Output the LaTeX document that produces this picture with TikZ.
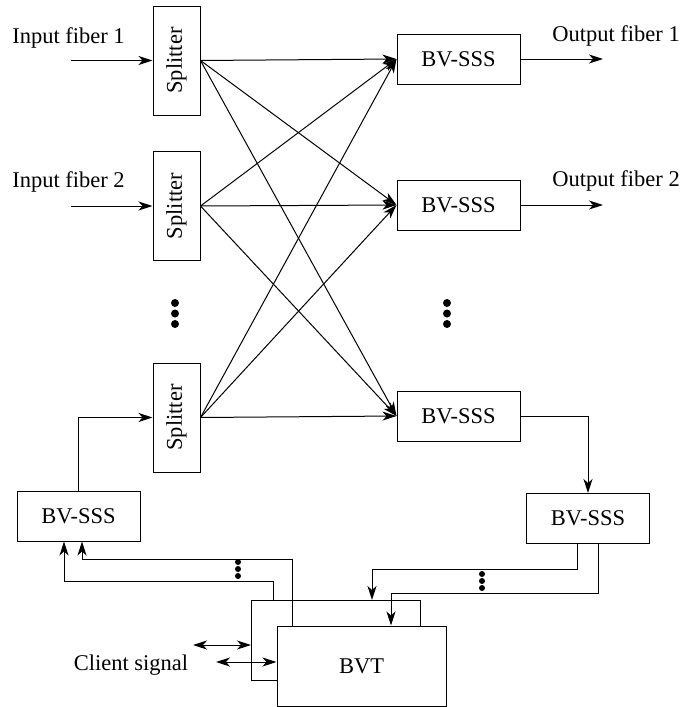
\documentclass[tikz,border=0pt]{standalone}
\usepackage{fontspec}
\usepackage{graphicx}
\setmainfont{Liberation Serif}
\usetikzlibrary{arrows.meta, positioning}
\tikzset{
    blk/.style={draw, line width=1pt, inner sep=0pt, font=\fontsize{22.5}{25}\selectfont},
    sssnode/.style={blk, minimum width=123pt, minimum height=50pt},
    splitnode/.style={blk, minimum width=47pt, minimum height=109pt},
    bvtnode/.style={blk, fill=white, minimum width=169pt, minimum height=80pt},
    lbl/.style={font=\fontsize{22.5}{25}\selectfont, inner sep=0pt},
    link/.style={line width=1pt, -{Stealth[length=14pt, width=9pt, inset=4pt]}},
    duplex/.style={line width=1pt, {Stealth[length=14pt, width=9pt, inset=4pt]}-{Stealth[length=14pt, width=9pt, inset=4pt]}},
    wire/.style={line width=1pt}
}

\begin{document}
\begin{tikzpicture}[x=1pt, y=-1pt]
    \useasboundingbox (0,0) rectangle (683,707);
    % splitters and switches
    \foreach \n/\y in {1/60.5, 2/206, 3/417.5} {
        \node[splitnode] (spl\n) at (176.5,\y) {\rotatebox{90}{Splitter}};
    }
    \foreach \n/\y in {1/59, 2/205, 3/416} {
        \node[sssnode] (sss\n) at (458.5,\y) {BV-SSS};
    }
    \foreach \i in {1,2,3}
        \foreach \j in {1,2,3}
            \draw[link] (spl\i.east) -- (sss\j.west);

    % fibres
    \node[lbl] (in1) at (68.5,38) {Input fiber 1};
    \node[lbl] (in2) at (68.5,182) {Input fiber 2};
    \node[lbl] (out1) at (616,36) {Output fiber 1};
    \node[lbl] (out2) at (616,181) {Output fiber 2};
    \coordinate (src1) at (71,60.5);
    \coordinate (src2) at (71,206);
    \coordinate (dst1) at (603,59);
    \coordinate (dst2) at (603,205);
    \draw[link] (src1) -- (spl1.west);
    \draw[link] (src2) -- (spl2.west);
    \draw[link] (sss1.east) -- (dst1);
    \draw[link] (sss2.east) -- (dst2);

    \foreach \y in {303,313.5,324} {
        \fill (175,\y) circle (4pt);
        \fill (447,\y) circle (4pt);
    }

    % add/drop part
    \node[sssnode] (sssL) at (78.5,516) {BV-SSS};
    \node[sssnode] (sssR) at (588,518.5) {BV-SSS};
    \draw[link] (sss3.east) -| (sssR.north);
    \draw[link] (sssL.north) |- (spl3.west);

    \node[bvtnode] (bvtback) at (336,640.5) {};
    \node[bvtnode] (bvt) at (361.5,666) {BVT};

    \coordinate (bendL1) at (273,581);
    \coordinate (bendL2) at (292,559);
    \coordinate (bendR1) at (372,569);
    \coordinate (bendR2) at (391,593);
    \draw[link] (bvtback.north -| bendL1) -- (bendL1) -| ([xshift=-14.5pt]sssL.south);
    \draw[link] (bvt.north -| bendL2) -- (bendL2) -| ([xshift=3.5pt]sssL.south);
    \draw[link] ([xshift=-11pt]sssR.south) |- (bendR1) -- (bvtback.north -| bendR1);
    \draw[link] ([xshift=10pt]sssR.south) |- (bendR2) -- (bvt.north -| bendR2);

    \foreach \y in {562,569,576} \fill (238,\y) circle (3pt);
    \foreach \y in {574,581,588} \fill (482,\y) circle (3pt);

    \node[lbl] (client) at (131,665) {Client signal};
    \coordinate (cli1) at (193,645);
    \coordinate (cli2) at (216,662);
    \draw[duplex] (cli1) -- (bvtback.west |- cli1);
    \draw[duplex] (cli2) -- (bvt.west |- cli2);
\end{tikzpicture}
\end{document}
